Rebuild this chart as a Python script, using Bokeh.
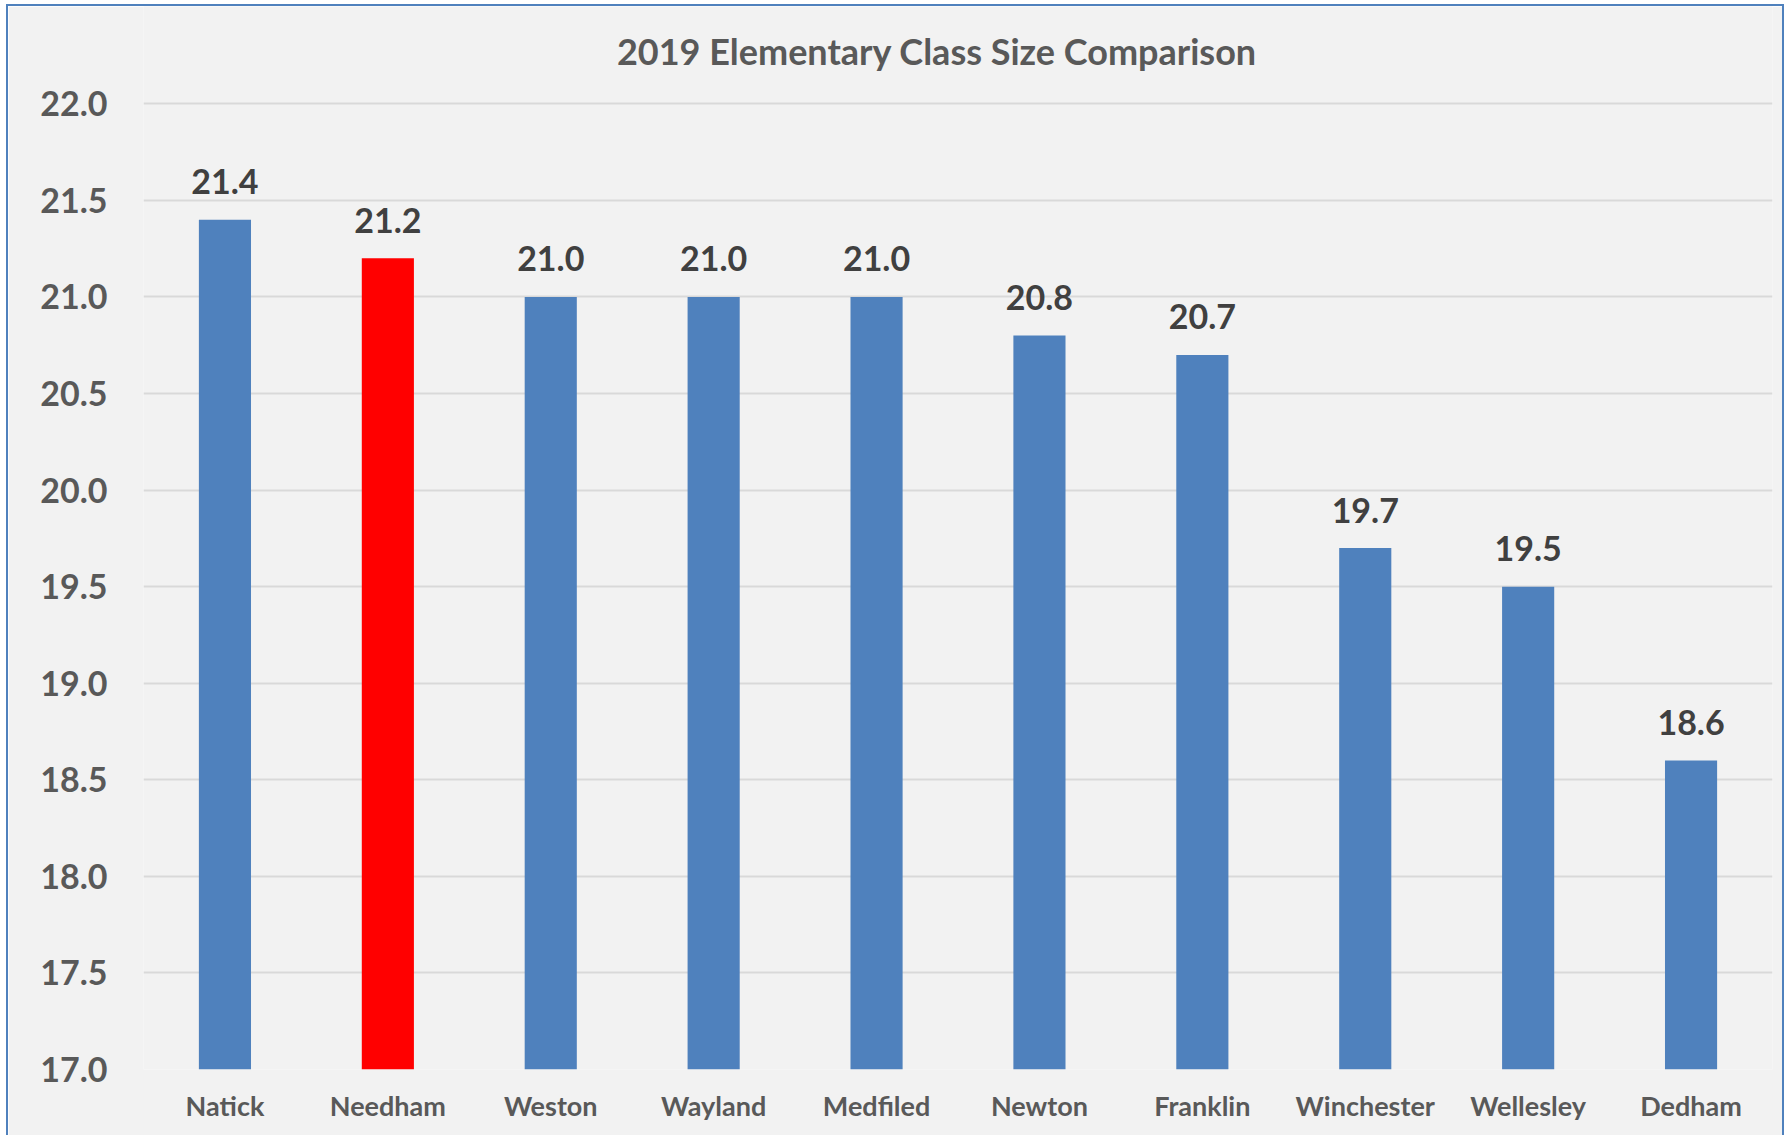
from bokeh.plotting import figure
from bokeh.models import ColumnDataSource, FixedTicker, PrintfTickFormatter, Range1d, FactorRange
from bokeh.core.properties import value
from bokeh.embed import file_html
from bokeh.resources import INLINE

# ---- data ----
categories = ["Natick", "Needham", "Weston", "Wayland", "Medfiled",
              "Newton", "Franklin", "Winchester", "Wellesley", "Dedham"]
class_sizes = [21.4, 21.2, 21.0, 21.0, 21.0, 20.8, 20.7, 19.7, 19.5, 18.6]
highlight = "Needham"
y_ticks = [17.0, 17.5, 18.0, 18.5, 19.0, 19.5, 20.0, 20.5, 21.0, 21.5, 22.0]
chart_title = "2019 Elementary Class Size Comparison"

BLUE = "#4F81BD"
RED = "#FF0000"
FONT = "Lato"

colors = [RED if c == highlight else BLUE for c in categories]
labels = ["%.1f" % v for v in class_sizes]
src = ColumnDataSource(dict(cat=categories, val=class_sizes, color=colors, label=labels))

p = figure(
    x_range=FactorRange(*categories, range_padding=0),
    y_range=Range1d(17.0, 22.504),
    width=1778, height=1131,
    output_backend="svg", toolbar_location=None,
    min_border_left=135, min_border_right=14, min_border_top=0, min_border_bottom=68,
    background_fill_color="#F2F2F2", border_fill_color="#F2F2F2",
    outline_line_color=None,
)
p.styles = {
    "border-top": "2px solid #4F81BD",
    "border-left": "2px solid #4F81BD",
    "border-right": "2px solid #4F81BD",
    "margin-left": "6px",
    "margin-top": "4px",
}

p.vbar(x="cat", top="val", bottom=17.0, width=0.32, fill_color="color",
       line_color=None, source=src)

p.text(x="cat", y="val", text="label", source=src,
       text_align="center", text_baseline="alphabetic", y_offset=-38,
       text_font=value(FONT), text_font_style="bold", text_font_size="34px",
       text_color="#404040")

# chart title
p.text(x=[("Medfiled", 0.371)], y=[22.272], text=[chart_title],
       text_align="center", text_baseline="alphabetic",
       text_font=value(FONT), text_font_style="bold", text_font_size="36px",
       text_color="#595959")

# axes
p.yaxis.ticker = FixedTicker(ticks=y_ticks)
p.yaxis.formatter = PrintfTickFormatter(format="%.1f")
p.yaxis.axis_line_color = None
p.yaxis.major_tick_line_color = None
p.yaxis.minor_tick_line_color = None
p.yaxis.major_tick_out = 0
p.yaxis.major_tick_in = 0
p.yaxis.major_label_standoff = 36
p.yaxis.major_label_text_font = FONT
p.yaxis.major_label_text_font_style = "bold"
p.yaxis.major_label_text_font_size = "34px"
p.yaxis.major_label_text_color = "#595959"

p.xaxis.axis_line_color = None
p.xaxis.major_tick_line_color = None
p.xaxis.major_tick_out = 0
p.xaxis.major_tick_in = 0
p.xaxis.major_label_standoff = 19
p.xaxis.major_label_text_font = FONT
p.xaxis.major_label_text_font_style = "bold"
p.xaxis.major_label_text_font_size = "27px"
p.xaxis.major_label_text_color = "#595959"

p.xgrid.grid_line_color = None
p.ygrid.grid_line_color = "#D9D9D9"
p.ygrid.grid_line_width = 2
p.ygrid.ticker = FixedTicker(ticks=y_ticks)

open("out.html", "w").write(file_html(p, INLINE))
